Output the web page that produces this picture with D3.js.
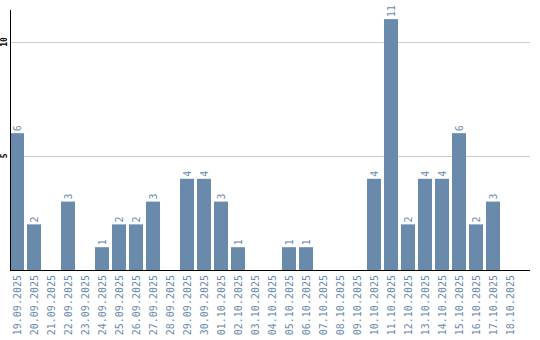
<!DOCTYPE html>
<html>
<head>
<meta charset="utf-8">
<script src="https://cdn.jsdelivr.net/npm/d3@7"></script>
<style>
  body { margin: 0; background: #fff; }
  svg text { font-family: "DejaVu Sans Mono", monospace; }
</style>
</head>
<body>
<div id="chart"></div>
<script>
// data
var dates = ["19.09.2025","20.09.2025","21.09.2025","22.09.2025","23.09.2025","24.09.2025",
  "25.09.2025","26.09.2025","27.09.2025","28.09.2025","29.09.2025","30.09.2025","01.10.2025",
  "02.10.2025","03.10.2025","04.10.2025","05.10.2025","06.10.2025","07.10.2025","08.10.2025",
  "09.10.2025","10.10.2025","11.10.2025","12.10.2025","13.10.2025","14.10.2025","15.10.2025",
  "16.10.2025","17.10.2025","18.10.2025"];
var counts = [6,2,0,3,0,1,2,2,3,0,4,4,3,1,0,0,1,1,0,0,0,4,11,2,4,4,6,2,3,0];
var yTicks = [5, 10];

var width = 540, height = 340;
var plotLeft = 10, plotRight = 530, plotTop = 10, plotBottom = 270;
var barColor = "#6a8aac";

var svg = d3.select("#chart").append("svg")
  .attr("width", width)
  .attr("height", height);

var x = d3.scaleBand()
  .domain(dates)
  .range([plotLeft, 517])
  .paddingInner(3 / 17)
  .paddingOuter(0);

var y = d3.scaleLinear()
  .domain([0, 11.4])
  .range([plotBottom, plotTop]);

// grid lines
svg.append("g")
  .selectAll("line")
  .data(yTicks)
  .enter()
  .append("line")
  .attr("x1", plotLeft)
  .attr("x2", plotRight)
  .attr("y1", d => Math.round(y(d)) + 0.5)
  .attr("y2", d => Math.round(y(d)) + 0.5)
  .attr("stroke", "#cccccc")
  .attr("stroke-width", 1);

// y tick labels, rotated
svg.append("g")
  .selectAll("text")
  .data(yTicks)
  .enter()
  .append("text")
  .attr("transform", d => `translate(7, ${y(d)}) rotate(-90)`)
  .attr("text-anchor", "middle")
  .attr("font-size", "8px")
  .attr("font-weight", "bold")
  .attr("fill", "#000")
  .text(d => d);

// bars
var data = dates.map((d, i) => ({ date: d, value: counts[i] }));

svg.append("g")
  .selectAll("rect")
  .data(data.filter(d => d.value > 0))
  .enter()
  .append("rect")
  .attr("x", d => Math.round(x(d.date)))
  .attr("y", d => y(d.value))
  .attr("width", Math.round(x.bandwidth()))
  .attr("height", d => plotBottom - y(d.value))
  .attr("fill", barColor);

// value labels
svg.append("g")
  .selectAll("text")
  .data(data.filter(d => d.value > 0))
  .enter()
  .append("text")
  .attr("transform", d => `translate(${Math.round(x(d.date)) + x.bandwidth() / 2 + 3.5}, ${y(d.value) - 2}) rotate(-90)`)
  .attr("text-anchor", "start")
  .attr("font-size", "10px")
  .attr("fill", barColor)
  .text(d => d.value);

// axis lines
svg.append("line")
  .attr("x1", plotLeft + 0.5).attr("x2", plotLeft + 0.5)
  .attr("y1", plotTop).attr("y2", plotBottom)
  .attr("stroke", "#000");

svg.append("line")
  .attr("x1", plotLeft).attr("x2", plotRight)
  .attr("y1", plotBottom + 0.5).attr("y2", plotBottom + 0.5)
  .attr("stroke", "#000");

// date labels
svg.append("g")
  .selectAll("text")
  .data(dates)
  .enter()
  .append("text")
  .attr("transform", d => `translate(${Math.round(x(d)) + x.bandwidth() / 2 + 3.5}, ${plotBottom + 5}) rotate(-90)`)
  .attr("text-anchor", "end")
  .attr("font-size", "10px")
  .attr("fill", barColor)
  .text(d => d);
</script>
</body>
</html>
